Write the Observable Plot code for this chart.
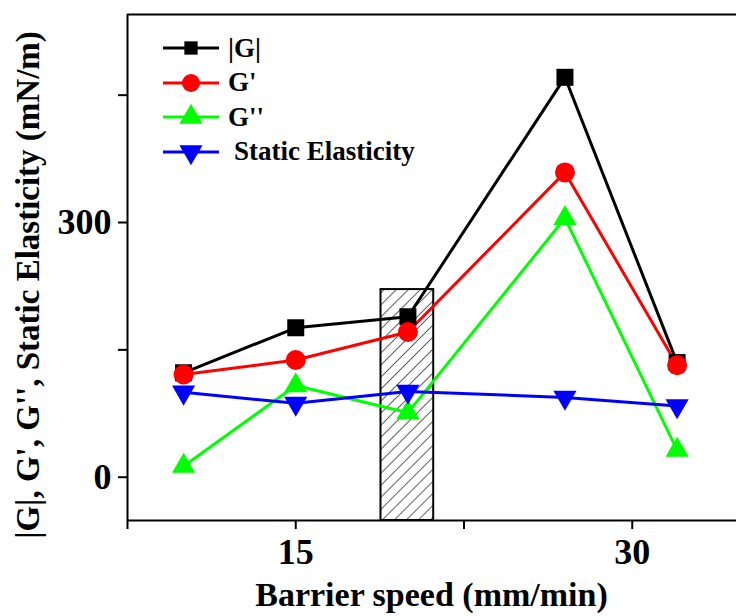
<!DOCTYPE html>
<html>
<head>
<meta charset="utf-8">
<script src="https://cdn.jsdelivr.net/npm/d3@7"></script>
<script src="https://cdn.jsdelivr.net/npm/@observablehq/plot@0.6"></script>
<style>
  body { margin: 0; background: #fff; }
  #wrap { position: relative; width: 736px; height: 616px; overflow: hidden; font-family: "Liberation Serif", "Times New Roman", serif; font-weight: bold; }
  #wrap > svg { max-width: none !important; width: 800px; height: 616px; display: block; }
  .leg { position: absolute; display: flex; align-items: center; font-size: 27px; line-height: 1; }
  .leg svg { display: block; margin-right: 9px; }
</style>
</head>
<body>
<div id="wrap"></div>
<script>
// ---- data ----
const speeds   = [10, 15, 20, 27, 32];          // Barrier speed (mm/min)
const gAbs     = [123, 176, 189, 471, 135];     // |G|
const gPrime   = [121, 138, 171, 359, 132];     // G'
const gDouble  = [13, 108, 76, 305, 32];        // G''
const staticEl = [100, 87, 101, 94, 84];        // Static Elasticity
const seriesNames  = ["|G|", "G'", "G''", "Static Elasticity"];
const seriesColors = ["#000000", "#ff0000", "#00ff00", "#0000ff"];
const seriesSymbols = ["square", "circle", "triangle", "triangle"];
const seriesRotate = [0, 0, 0, 180];
const seriesR = [9.6, 10, 8.6, 8.6];
const xTicks = [7.5, 15, 22.5, 30];
const xTickLabels = [15, 30];
const yTicks = [0, 150, 300, 450];
const yTickLabels = [0, 300];
const highlight = [{x1: 18.8, x2: 21.15, top: 221}];
const xDomain = [7.5, 37.5];   // frame continues past the right edge of the picture
const yDomain = [-51, 545];
const xLabel = "Barrier speed (mm/min)";
const yLabel = "|G|, G', G'', Static Elasticity (mN/m)";

const allValues = [gAbs, gPrime, gDouble, staticEl];
const series = seriesNames.map((name, i) => ({
  name, color: seriesColors[i], symbol: seriesSymbols[i], rotate: seriesRotate[i], r: seriesR[i],
  rows: speeds.map((x, j) => ({x, y: allValues[i][j]}))
}));

const W = 736, H = 616, mL = 127, mT = 14, mB = 96;
const fullWidth = 800; // the frame's right edge lies beyond the visible picture

const marks = [
  Plot.rect(highlight, {x1: "x1", x2: "x2", y1: () => yDomain[0], y2: "top", fill: "url(#hatch)", stroke: "black", strokeWidth: 2}),
  ...series.map(s => Plot.line(s.rows, {x: "x", y: "y", stroke: s.color, strokeWidth: 3})),
  ...series.map(s => Plot.dot(s.rows, {x: "x", y: "y", fill: s.color, stroke: "none", symbol: s.symbol, r: s.r, rotate: s.rotate})),
  Plot.ruleX([xDomain[0]], {stroke: "black", strokeWidth: 2}),
  Plot.ruleY([yDomain[0], yDomain[1]], {stroke: "black", strokeWidth: 2}),
  Plot.axisX(xTicks, {
    tickFormat: d => xTickLabels.includes(d) ? String(d) : "",
    tickSize: 9, tickPadding: 9, strokeWidth: 2, fontSize: 36, fontWeight: "bold", label: null
  }),
  Plot.axisY(yTicks, {
    tickFormat: d => yTickLabels.includes(d) ? String(d) : "",
    tickSize: 9, tickPadding: 7, strokeWidth: 2, fontSize: 36, fontWeight: "bold", label: null
  })
];

const chart = Plot.plot({
  width: fullWidth, height: H,
  marginLeft: mL, marginRight: 0, marginTop: mT, marginBottom: mB,
  x: {domain: xDomain},
  y: {domain: yDomain},
  style: {fontFamily: "'Liberation Serif', 'Times New Roman', serif", fontWeight: "bold", fontSize: "36px", background: "white", maxWidth: "none"},
  marks
});

const svg = d3.select(chart);
// hatch pattern
const defs = svg.insert("defs", ":first-child");
const pat = defs.append("pattern").attr("id", "hatch").attr("patternUnits", "userSpaceOnUse")
  .attr("width", 8.5).attr("height", 8.5).attr("patternTransform", "rotate(45)");
pat.append("rect").attr("width", 8.5).attr("height", 8.5).attr("fill", "white");
pat.append("line").attr("x1", 0).attr("y1", 0).attr("x2", 0).attr("y2", 8.5).attr("stroke", "black").attr("stroke-width", 1.2);

// axis titles
svg.append("text").text(xLabel)
  .attr("x", (mL + W) / 2).attr("y", 606)
  .attr("text-anchor", "middle").style("font-size", "34px").style("font-weight", "bold");
svg.append("text").text(yLabel)
  .attr("transform", "translate(39,285) rotate(-90)")
  .attr("text-anchor", "middle").style("font-size", "33px").style("font-weight", "bold");

const wrap = document.getElementById("wrap");
wrap.appendChild(chart);

// legend
series.forEach((s, i) => {
  const row = document.createElement("div");
  row.className = "leg";
  row.style.left = "163px";
  row.style.top = (48.3 - 17 + i * 34.5) + "px";
  row.style.height = "34px";
  const ns = "http://www.w3.org/2000/svg";
  const sv = document.createElementNS(ns, "svg");
  sv.setAttribute("width", 56); sv.setAttribute("height", 34);
  const ln = document.createElementNS(ns, "line");
  ln.setAttribute("x1", 0); ln.setAttribute("x2", 56); ln.setAttribute("y1", 17); ln.setAttribute("y2", 17);
  ln.setAttribute("stroke", s.color); ln.setAttribute("stroke-width", 3);
  sv.appendChild(ln);
  const sym = s.symbol === "square" ? d3.symbolSquare : s.symbol === "circle" ? d3.symbolCircle : d3.symbolTriangle;
  const legR = s.symbol === "square" ? 7.5 : s.symbol === "circle" ? 9 : 8.6;
  const p = document.createElementNS(ns, "path");
  p.setAttribute("d", d3.symbol(sym, Math.PI * legR * legR)());
  p.setAttribute("fill", s.color);
  p.setAttribute("transform", `translate(28,17) rotate(${s.rotate})`);
  sv.appendChild(p);
  row.appendChild(sv);
  const t = document.createElement("span");
  t.textContent = s.name;
  if (i === 3) t.style.marginLeft = "6px";
  row.appendChild(t);
  wrap.appendChild(row);
});
</script>
</body>
</html>
